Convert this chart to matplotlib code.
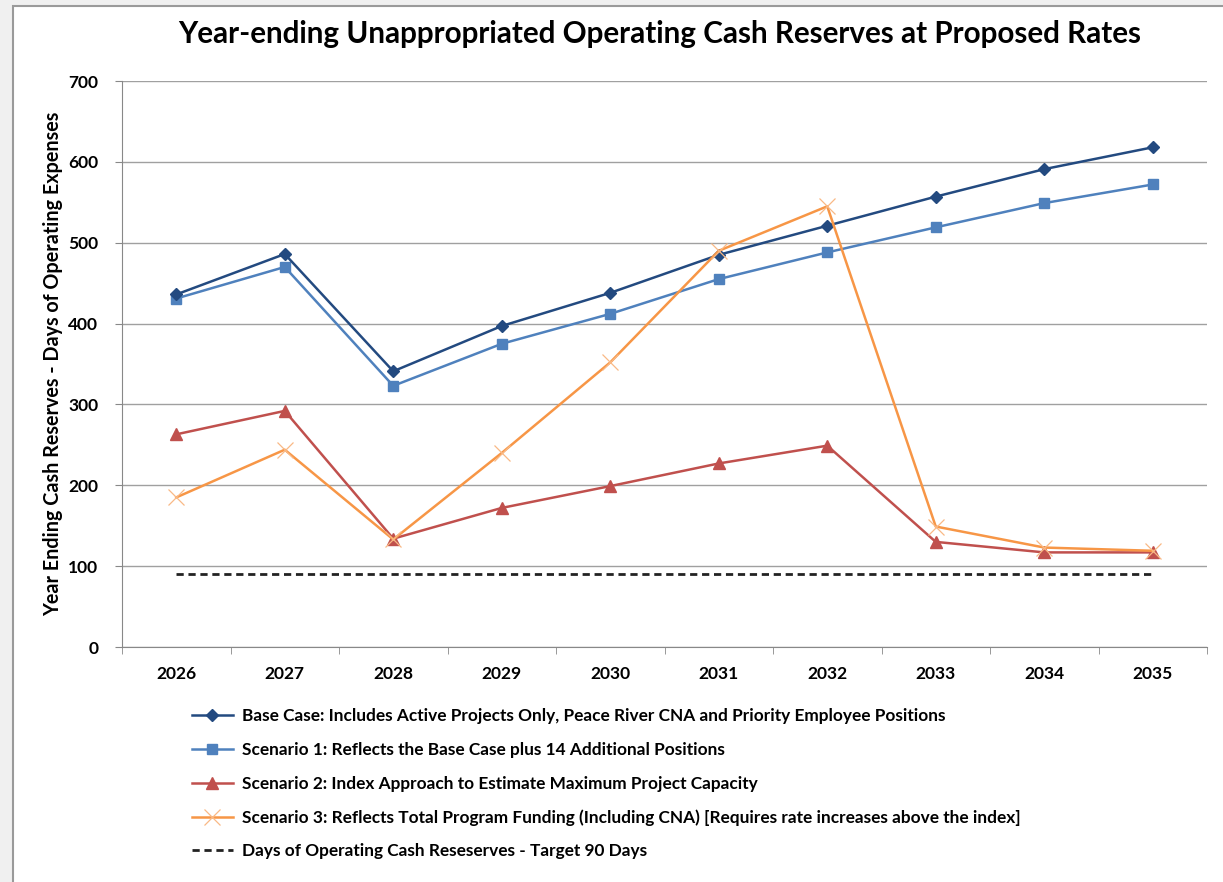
import matplotlib.pyplot as plt
from matplotlib.patches import Rectangle

years = ['2026', '2027', '2028', '2029', '2030', '2031', '2032', '2033', '2034', '2035']
base_case = [436, 486, 341, 397, 438, 485, 521, 557, 591, 618]
scenario_1 = [431, 470, 323, 375, 412, 455, 488, 519, 549, 572]
scenario_2 = [263, 292, 134, 172, 199, 227, 249, 130, 117, 117]
scenario_3 = [185, 244, 133, 240, 352, 490, 545, 149, 123, 119]
target = [90] * 10

labels = [
    'Base Case: Includes Active Projects Only, Peace River CNA and Priority Employee Positions',
    'Scenario 1: Reflects the Base Case plus 14 Additional Positions',
    'Scenario 2: Index Approach to Estimate Maximum Project Capacity',
    'Scenario 3: Reflects Total Program Funding (Including CNA) [Requires rate increases above the index]',
    'Days of Operating Cash Reseserves - Target 90 Days',
]

plt.rcParams['font.family'] = ['Lato', 'DejaVu Sans']

fig = plt.figure(figsize=(12.23, 8.82), dpi=100, facecolor='#f0f0f0')
# white chart area with the thin grey frame on the top and left
fig.patches.append(Rectangle((13 / 1223, -0.1), 1.2, 1 - 6 / 882 + 0.1,
                             transform=fig.transFigure, facecolor='white',
                             edgecolor='#9a9a9a', linewidth=1.5, zorder=-5))

ax = fig.add_axes([122 / 1223, 1 - 647 / 882, (1207 - 122) / 1223, (647 - 81) / 882])
ax.set_zorder(2)
ax.set_facecolor('white')
x = list(range(len(years)))

ax.plot(x, base_case, color='#234a80', lw=1.8, marker='D', ms=6, label=labels[0], zorder=5)
ax.plot(x, scenario_1, color='#4f81bd', lw=1.8, marker='s', ms=7, label=labels[1], zorder=4)
ax.plot(x, scenario_2, color='#c0504d', lw=1.8, marker='^', ms=8, label=labels[2], zorder=3)
ax.plot(x, scenario_3, color='#f79646', lw=1.8, marker='x', ms=11, mew=0.9,
        mec='#f9b985', label=labels[3], zorder=6)
ax.plot(x, target, color='#222222', lw=2, ls=(0, (2.6, 1.7)), label=labels[4], zorder=2)

ax.set_xlim(-0.5, len(years) - 0.5)
ax.set_ylim(0, 700)
ax.set_yticks(range(0, 701, 100))
ax.set_xticks(x)
ax.set_xticklabels(years)
ax.set_xticks([i - 0.5 for i in range(len(years) + 1)], minor=True)
ax.tick_params(axis='x', which='major', length=0, pad=14)
ax.tick_params(axis='x', which='minor', length=5, color='#888888', direction='out')
ax.tick_params(axis='y', length=5, color='#888888', pad=12)
for lab in ax.get_xticklabels() + ax.get_yticklabels():
    lab.set_fontweight('bold')
    lab.set_fontsize(12.5)

ax.grid(axis='y', color='#a0a0a0', lw=1)
ax.set_axisbelow(True)
for side in ['top', 'right']:
    ax.spines[side].set_visible(False)
for side in ['left', 'bottom']:
    ax.spines[side].set_color('#888888')

ax.set_ylabel('Year Ending Cash Reserves - Days of Operating Expenses',
              fontsize=14.2, fontweight='bold', labelpad=4)

fig.text(660 / 1223, 1 - 34 / 882, 'Year-ending Unappropriated Operating Cash Reserves at Proposed Rates',
         ha='center', va='center', fontsize=21.3, fontweight='bold')

leg = fig.legend(loc='upper left', bbox_to_anchor=(176 / 1223, 1 - 693 / 882),
                 frameon=False, ncol=1, handlelength=2.4, handletextpad=0.55,
                 labelspacing=1.02, prop={'weight': 'bold', 'size': 12.4})

fig.savefig('out.png', dpi=100, facecolor=fig.get_facecolor())
